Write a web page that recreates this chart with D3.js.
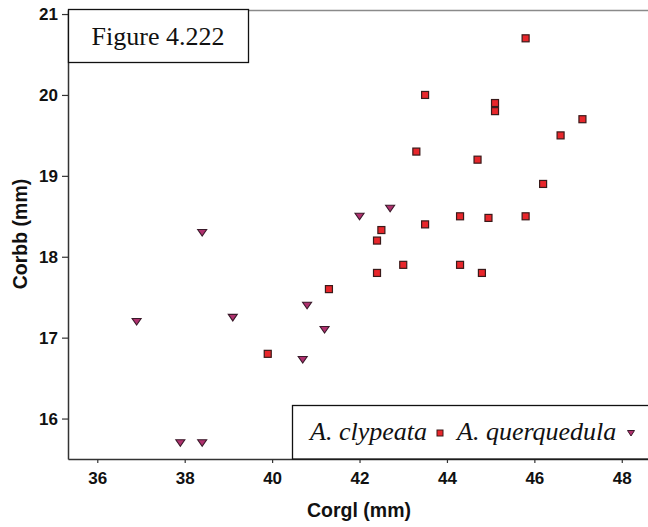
<!DOCTYPE html>
<html>
<head>
<meta charset="utf-8">
<script src="https://cdnjs.cloudflare.com/ajax/libs/d3/7.8.5/d3.min.js"></script>
<style>
  body { margin: 0; background: #fff; }
</style>
</head>
<body>
<div id="chart"></div>
<script>
var clypeataX = [45.8, 43.5, 45.1, 45.1, 47.1, 46.6, 43.3, 44.7, 46.2, 44.3, 44.95, 45.8, 43.5, 42.5, 42.4, 43.0, 44.3, 42.4, 44.8, 41.3, 39.9]
var clypeataY = [20.7, 20.0, 19.9, 19.8, 19.7, 19.5, 19.3, 19.2, 18.9, 18.5, 18.48, 18.5, 18.4, 18.33, 18.2, 17.9, 17.9, 17.8, 17.8, 17.6, 16.8]
var querqX = [42.0, 42.7, 38.4, 40.8, 36.9, 39.1, 41.2, 40.7, 37.9, 38.4]
var querqY = [18.5, 18.6, 18.3, 17.4, 17.2, 17.25, 17.1, 16.73, 15.7, 15.7]
var xTicks = [36, 38, 40, 42, 44, 46, 48]
var yTicks = [16, 17, 18, 19, 20, 21]

var width = 648, height = 527
var margin = { left: 68, top: 10, right: 0, bottom: 68 }
var sans = "Arial, 'Liberation Sans', sans-serif"
var serif = "'Times New Roman', 'Liberation Serif', serif"

let svg = d3.select("#chart").append("svg")
    .attr("width", width)
    .attr("height", height)

let x = d3.scaleLinear()
    .domain([35.33, 48.6])
    .range([margin.left, width - margin.right])

let y = d3.scaleLinear()
    .domain([15.5, 21.05])
    .range([height - margin.bottom, margin.top])

// frame top line
svg.append("line")
    .attr("x1", margin.left).attr("x2", width)
    .attr("y1", margin.top + 0.5).attr("y2", margin.top + 0.5)
    .attr("stroke", "#8a8a8a").attr("stroke-width", 1.5)

let xAxis = svg.append("g")
    .attr("transform", "translate(0," + (height - margin.bottom) + ")")
    .call(d3.axisBottom(x).tickValues(xTicks).tickFormat(d3.format("d")).tickSize(4).tickSizeOuter(0).tickPadding(9))
xAxis.select(".domain").attr("stroke", "#333").attr("stroke-width", 1.5)
xAxis.selectAll(".tick line").attr("stroke", "#333").attr("stroke-width", 1.2)
xAxis.selectAll("text")
    .attr("font-family", sans)
    .attr("font-size", 17).attr("font-weight", "bold").attr("fill", "#111")

let yAxis = svg.append("g")
    .attr("transform", "translate(" + margin.left + ",0)")
    .call(d3.axisLeft(y).tickValues(yTicks).tickFormat(d3.format("d")).tickSize(6).tickSizeOuter(0).tickPadding(4))
yAxis.select(".domain").attr("stroke", "#333").attr("stroke-width", 1.5)
yAxis.selectAll(".tick line").attr("stroke", "#333").attr("stroke-width", 1.2)
yAxis.selectAll("text")
    .attr("font-family", sans)
    .attr("font-size", 17).attr("font-weight", "bold").attr("fill", "#111")

// axis titles
svg.append("text")
    .attr("x", 359).attr("y", 517)
    .attr("text-anchor", "middle")
    .attr("font-family", sans)
    .attr("font-size", 19.5).attr("font-weight", "bold").attr("fill", "#111")
    .text("Corgl (mm)")

svg.append("text")
    .attr("transform", "translate(27,234) rotate(-90)")
    .attr("text-anchor", "middle")
    .attr("font-family", sans)
    .attr("font-size", 19.5).attr("font-weight", "bold").attr("fill", "#111")
    .text("Corbb (mm)")

// points
let sq = 7
svg.append("g").selectAll("rect")
    .data(d3.range(clypeataX.length))
    .enter()
    .append("rect")
    .attr("x", i => x(clypeataX[i]) - sq / 2)
    .attr("y", i => y(clypeataY[i]) - sq / 2)
    .attr("width", sq).attr("height", sq)
    .attr("fill", "#e8262b")
    .attr("stroke", "#3a1a1a").attr("stroke-width", 1.2)

let tri = "M-4.5,-3 L4.5,-3 L0,3.5 Z"
svg.append("g").selectAll("path")
    .data(d3.range(querqX.length))
    .enter()
    .append("path")
    .attr("d", tri)
    .attr("transform", i => "translate(" + x(querqX[i]) + "," + y(querqY[i]) + ")")
    .attr("fill", "#b0306e")
    .attr("stroke", "#3a1a2a").attr("stroke-width", 1.1)

// title box
svg.append("rect")
    .attr("x", 68.5).attr("y", 9.5).attr("width", 180).attr("height", 53)
    .attr("fill", "#fff").attr("stroke", "#111").attr("stroke-width", 1.3)
svg.append("text")
    .attr("x", 158).attr("y", 45)
    .attr("text-anchor", "middle")
    .attr("font-family", serif)
    .attr("font-size", 26).attr("fill", "#111")
    .text("Figure 4.222")

// legend box
svg.append("rect")
    .attr("x", 292.5).attr("y", 405.5).attr("width", 370).attr("height", 53.5)
    .attr("fill", "#fff").attr("stroke", "#111").attr("stroke-width", 1.3)
svg.append("text")
    .attr("x", 310).attr("y", 440)
    .attr("font-family", serif)
    .attr("font-size", 26).attr("font-style", "italic").attr("fill", "#111")
    .text("A. clypeata")
svg.append("rect")
    .attr("x", 437).attr("y", 430).attr("width", 6).attr("height", 6)
    .attr("fill", "#e8262b").attr("stroke", "#3a1a1a").attr("stroke-width", 1)
svg.append("text")
    .attr("x", 457).attr("y", 440)
    .attr("font-family", serif)
    .attr("font-size", 26).attr("font-style", "italic").attr("fill", "#111")
    .text("A. querquedula")
svg.append("path")
    .attr("d", "M-3.5,-2.5 L3.5,-2.5 L0,3 Z")
    .attr("transform", "translate(631,433)")
    .attr("fill", "#b0306e").attr("stroke", "#3a1a2a").attr("stroke-width", 1)
</script>
</body>
</html>
